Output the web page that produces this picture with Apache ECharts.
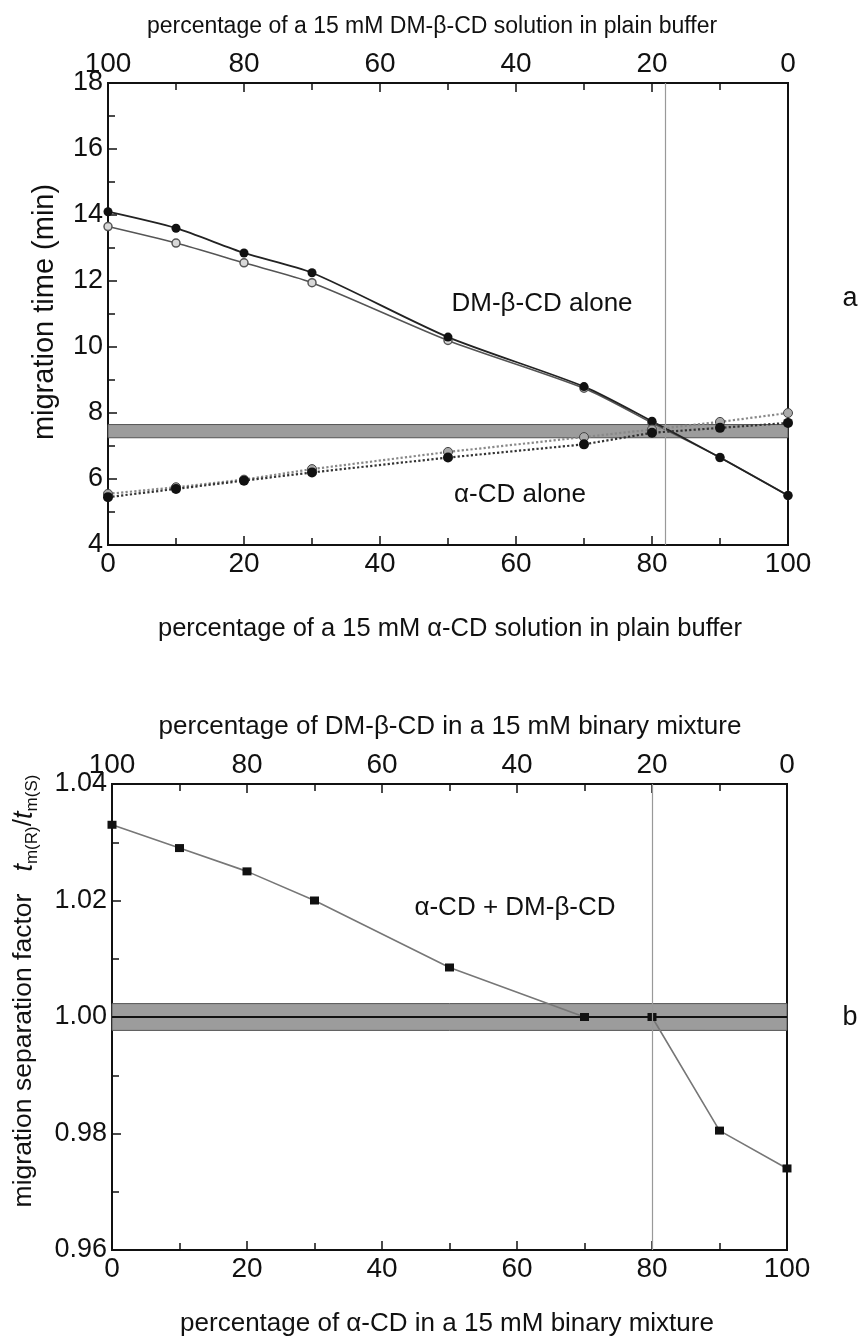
<!DOCTYPE html>
<html>
<head>
<meta charset="utf-8">
<script src="https://cdn.jsdelivr.net/npm/echarts@6/dist/echarts.min.js"></script>
<style>
  html, body { margin: 0; padding: 0; background: #fff; }
  #chart { width: 865px; height: 1340px; }
</style>
</head>
<body>
<div id="chart"></div>
<script>
// x values: percentage of alpha-CD (bottom axis); top axis = 100 - x
const pct = [0, 10, 20, 30, 50, 70, 80, 90, 100]
// panel a: migration time (min)
const dmBlack = [14.1, 13.6, 12.85, 12.25, 10.3, 8.8, 7.75, 6.65, 5.5]
const dmGray = [13.65, 13.15, 12.55, 11.95, 10.2, 8.75, 7.7, 6.65, 5.5]
const alphaBlack = [5.45, 5.7, 5.95, 6.2, 6.65, 7.05, 7.4, 7.55, 7.7]
const alphaGray = [5.55, 5.75, 5.98, 6.3, 6.82, 7.27, 7.5, 7.73, 8.0]
const bandA = [7.25, 7.65]
const vlineA = 82
// panel b: migration separation factor
const sepFactor = [1.033, 1.029, 1.025, 1.02, 1.0085, 1.0, 1.0, 0.9805, 0.974]
const bandB = [0.9977, 1.0023]
const vlineB = 80

const FONT = "'Liberation Sans', Arial, sans-serif"
const pairs = ys => pct.map((x, i) => [x, ys[i]])

const chart = echarts.init(document.getElementById('chart'))

const xAxisBase = (gridIndex, position, inverse) => ({
	gridIndex: gridIndex,
	type: 'value',
	position: position,
	inverse: inverse,
	min: 0,
	max: 100,
	interval: 20,
	axisLine: { lineStyle: { color: '#111', width: 2 } },
	axisTick: { inside: true, length: 9, lineStyle: { color: '#111', width: 1.5 } },
	minorTick: { show: true, splitNumber: 2, length: 7, lineStyle: { color: '#111', width: 1.5 } },
	axisLabel: { color: '#111', fontSize: 28, fontFamily: FONT, margin: 5 },
	splitLine: { show: false }
})

const yAxisBase = (gridIndex, min, max, interval, digits) => ({
	gridIndex: gridIndex,
	type: 'value',
	min: min,
	max: max,
	interval: interval,
	axisLine: { show: true, lineStyle: { color: '#111', width: 2 } },
	axisTick: { show: true, inside: true, length: 9, lineStyle: { color: '#111', width: 1.5 } },
	minorTick: { show: true, splitNumber: 2, length: 7, lineStyle: { color: '#111', width: 1.5 } },
	axisLabel: {
		color: '#111', fontSize: 27, fontFamily: FONT, margin: 5,
		formatter: v => v.toFixed(digits)
	},
	splitLine: { show: false }
})

const noMark = { symbol: 'none', silent: true, label: { show: false }, emphasis: { disabled: true } }
const txt = (x, y, text, size, extra) => Object.assign({
	type: 'text', x: x, y: y,
	style: { text: text, font: size + 'px ' + FONT, fill: '#111', align: 'center', verticalAlign: 'middle' }
}, extra || {})

const option = {
	animation: false,
	backgroundColor: '#fff',
	grid: [
		{ left: 108, top: 83, width: 680, height: 462, show: true, borderColor: '#111', borderWidth: 2, backgroundColor: 'transparent' },
		{ left: 112, top: 784, width: 675, height: 466, show: true, borderColor: '#111', borderWidth: 2, backgroundColor: 'transparent' }
	],
	xAxis: [
		xAxisBase(0, 'bottom', false),
		xAxisBase(0, 'top', true),
		xAxisBase(1, 'bottom', false),
		xAxisBase(1, 'top', true)
	],
	yAxis: [
		yAxisBase(0, 4, 18, 2, 0),
		yAxisBase(1, 0.96, 1.04, 0.02, 2)
	],
	series: [
		{
			name: 'DM-β-CD (open)',
			type: 'line',
			xAxisIndex: 0, yAxisIndex: 0,
			data: pairs(dmGray),
			smooth: 0.25,
			symbol: 'circle', symbolSize: 8,
			lineStyle: { color: '#555', width: 1.6 },
			itemStyle: { color: '#d8d8d8', borderColor: '#555', borderWidth: 1.5 },
			markArea: {
				silent: true,
				itemStyle: { color: '#9c9c9c', borderColor: '#555', borderWidth: 1 },
				data: [[{ yAxis: bandA[0] }, { yAxis: bandA[1] }]]
			},
			markLine: Object.assign({}, noMark, {
				lineStyle: { color: '#999', width: 1.2, type: 'solid' },
				data: [{ xAxis: vlineA }]
			})
		},
		{
			name: 'DM-β-CD (filled)',
			type: 'line',
			xAxisIndex: 0, yAxisIndex: 0,
			data: pairs(dmBlack),
			smooth: 0.25,
			symbol: 'circle', symbolSize: 9,
			lineStyle: { color: '#222', width: 1.8 },
			itemStyle: { color: '#111' }
		},
		{
			name: 'α-CD (open)',
			type: 'line',
			xAxisIndex: 0, yAxisIndex: 0,
			data: pairs(alphaGray),
			symbol: 'circle', symbolSize: 9,
			lineStyle: { color: '#888', width: 2.2, type: 'dotted' },
			itemStyle: { color: '#aaa', borderColor: '#444', borderWidth: 1 }
		},
		{
			name: 'α-CD (filled)',
			type: 'line',
			xAxisIndex: 0, yAxisIndex: 0,
			data: pairs(alphaBlack),
			symbol: 'circle', symbolSize: 10,
			lineStyle: { color: '#333', width: 2.2, type: 'dotted' },
			itemStyle: { color: '#111' }
		},
		{
			name: 'α-CD + DM-β-CD',
			type: 'line',
			xAxisIndex: 2, yAxisIndex: 1,
			data: pairs(sepFactor),
			symbol: 'rect', symbolSize: [9, 8],
			lineStyle: { color: '#777', width: 1.6 },
			itemStyle: { color: '#111' },
			markArea: {
				silent: true,
				itemStyle: { color: '#9c9c9c', borderColor: '#555', borderWidth: 1 },
				data: [[{ yAxis: bandB[0] }, { yAxis: bandB[1] }]]
			},
			markLine: Object.assign({}, noMark, {
				data: [
					{ yAxis: 1.0, lineStyle: { color: '#111', width: 2.2, type: 'solid' } },
					{ xAxis: vlineB, lineStyle: { color: '#999', width: 1.2, type: 'solid' } }
				]
			})
		}
	],
	graphic: [
		txt(432, 27, 'percentage of a 15 mM DM-β-CD solution in plain buffer', 23),
		txt(450, 629, 'percentage of a 15 mM α-CD solution in plain buffer', 25.5),
		txt(45, 312, 'migration time (min)', 29, { rotation: Math.PI / 2 }),
		txt(542, 304, 'DM-β-CD alone', 26),
		txt(520, 495, 'α-CD alone', 26),
		txt(850, 299, 'a', 27),
		txt(450, 727, 'percentage of DM-β-CD in a 15 mM binary mixture', 26),
		txt(447, 1324, 'percentage of α-CD in a 15 mM binary mixture', 26),
		txt(515, 908, 'α-CD + DM-β-CD', 26),
		txt(850, 1018, 'b', 27),
		{
			type: 'text', x: 24, y: 991, rotation: Math.PI / 2,
			style: {
				text: 'migration separation factor   {t|t}{s|m(R)}/{t|t}{s|m(S)}',
				font: '26.5px ' + FONT, fill: '#111', align: 'center', verticalAlign: 'middle',
				rich: {
					t: { fontSize: 27, fontStyle: 'italic', fontFamily: FONT, fill: '#111', lineHeight: 34 },
					s: { fontSize: 17, fontFamily: FONT, fill: '#111', lineHeight: 34, verticalAlign: 'bottom', padding: [8, 0, 0, 0] }
				}
			}
		}
	]
}

chart.setOption(option)
</script>
</body>
</html>
